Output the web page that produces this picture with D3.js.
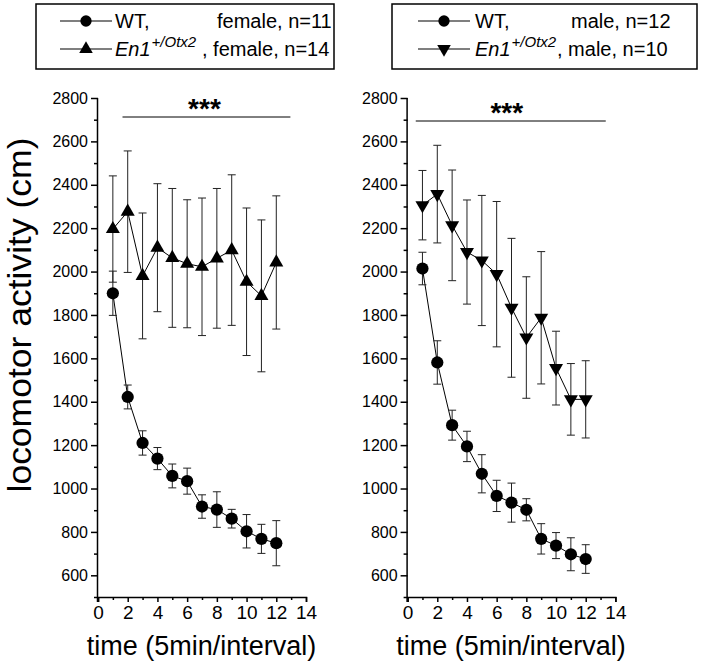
<!DOCTYPE html>
<html><head><meta charset="utf-8">
<script src="https://cdn.jsdelivr.net/npm/d3@7"></script>
<style>
html,body{margin:0;padding:0;background:#fff;}
svg{display:block;font-family:"Liberation Sans",Arial,sans-serif;}
</style></head>
<body>
<svg id="c" width="720" height="668"></svg>
<script>
const time = [1,2,3,4,5,6,7,8,9,10,11,12];
const femaleWT = [1900,1422,1210,1138,1058,1034,917,903,861,803,768,748];
const femaleWTerr = [102,55,56,51,55,60,54,82,43,77,67,104];
const femaleEn1 = [2196,2276,1980,2110,2063,2036,2022,2061,2099,1953,1888,2042];
const femaleEn1err = [245,280,290,295,320,295,317,322,347,340,350,307];
const maleWT = [2014,1581,1292,1194,1068,966,935,902,768,737,697,675];
const maleWTerr = [75,100,69,70,88,72,90,51,70,60,76,66];
const maleEn1 = [2306,2357,2213,2090,2051,1988,1833,1696,1787,1555,1411,1411];
const maleEn1err = [160,225,255,240,300,335,320,280,305,170,165,178];
const yTicks = [600,800,1000,1200,1400,1600,1800,2000,2200,2400,2600,2800];
const xTicks = [0,2,4,6,8,10,12,14];
const sigLeft = [1.65, 12.95];
const sigRight = [0.55, 13.35];

const svg = d3.select("#c");
const y = d3.scaleLinear().domain([500,2800]).range([597,98]);

function panel(x0, x1, wt, wtErr, ko, koErr, koSymbol, koRotate, sig, sigY, legend){
  const x = d3.scaleLinear().domain([0,14]).range([x0,x1]);
  const g = svg.append("g");
  const ya = g.append("g").attr("transform",`translate(${x0},0)`)
    .call(d3.axisLeft(y).tickValues(yTicks).tickSize(7).tickPadding(3).tickFormat(d3.format("d")));
  ya.call(s=>s.select(".domain").attr("d",`M-0.5,${y(2800)}V${y(500)+5}`));
  ya.selectAll("text").attr("font-size",16).attr("font-family","Liberation Sans, Arial, sans-serif");
  const ym = g.append("g").attr("transform",`translate(${x0},0)`)
    .call(d3.axisLeft(y).tickValues(d3.range(500,2800,100).filter(v=>v%200!==0)).tickSize(4).tickFormat(""));
  ym.select(".domain").remove();
  const xa = g.append("g").attr("transform",`translate(0,${y(500)})`)
    .call(d3.axisBottom(x).tickValues(xTicks).tickSize(5).tickPadding(4));
  xa.selectAll("text").attr("font-size",19).attr("font-family","Liberation Sans, Arial, sans-serif");
  const xm = g.append("g").attr("transform",`translate(0,${y(500)})`)
    .call(d3.axisBottom(x).tickValues(d3.range(1,14,2)).tickSize(3).tickFormat(""));
  xm.select(".domain").remove();
  g.selectAll(".domain,.tick line").attr("stroke","#000").attr("stroke-width",1.5);

  g.append("text").attr("x",(x0+x1)/2-0.5).attr("y",655).attr("text-anchor","middle")
    .attr("font-size",27).text("time (5min/interval)");

  const line = d3.line().x((d,i)=>x(time[i])).y(d=>y(d));
  function series(vals, errs, sym, rot){
    const s = g.append("g");
    s.append("path").attr("d",line(vals)).attr("fill","none").attr("stroke","#000").attr("stroke-width",1);
    vals.forEach((v,i)=>{
      const cx = x(time[i]);
      s.append("line").attr("x1",cx).attr("x2",cx).attr("y1",y(v-errs[i])).attr("y2",y(v+errs[i]))
        .attr("stroke","#222").attr("stroke-width",1);
      [v-errs[i], v+errs[i]].forEach(e=>{
        s.append("line").attr("x1",cx-4).attr("x2",cx+4).attr("y1",y(e)).attr("y2",y(e))
          .attr("stroke","#222").attr("stroke-width",1);
      });
    });
    vals.forEach((v,i)=>{
      s.append("path").attr("d",d3.symbol().type(sym).size(sym===d3.symbolCircle?118:85)())
        .attr("transform",`translate(${x(time[i])},${y(v)}) rotate(${rot})`).attr("fill","#000");
    });
  }
  series(wt, wtErr, d3.symbolCircle, 0);
  series(ko, koErr, koSymbol, koRotate);

  g.append("line").attr("x1",x(sig[0])).attr("x2",x(sig[1])).attr("y1",sigY).attr("y2",sigY)
    .attr("stroke","#000").attr("stroke-width",1);
  g.append("text").attr("x",(x(sig[0])+x(sig[1]))/2+ (legend.female?-2:-4)).attr("y",sigY+1)
    .attr("text-anchor","middle").attr("font-size",28).attr("font-weight","bold").text("***");

  const L = legend;
  g.append("rect").attr("x",L.bx).attr("y",4).attr("width",L.bw).attr("height",65)
    .attr("fill","none").attr("stroke","#000").attr("stroke-width",1.5);
  [[21,d3.symbolCircle,0],[49,koSymbol,koRotate]].forEach(([ly,sym,rot])=>{
    g.append("line").attr("x1",L.lx).attr("x2",L.lx+52).attr("y1",ly).attr("y2",ly).attr("stroke","#000").attr("stroke-width",1.2);
    g.append("path").attr("d",d3.symbol().type(sym).size(sym===d3.symbolCircle?100:80)())
      .attr("transform",`translate(${L.lx+26},${ly}) rotate(${rot})`).attr("fill","#000");
  });
  g.append("text").attr("x",L.tx).attr("y",28).attr("font-size",20).text("WT,");
  g.append("text").attr("x",L.t2x).attr("y",28).attr("font-size",20).text(L.line1);
  const t2 = g.append("text").attr("x",L.tx).attr("y",56).attr("font-size",20);
  t2.append("tspan").attr("font-style","italic").text("En1");
  t2.append("tspan").attr("font-style","italic").attr("font-size",15).attr("dy",-9).attr("dx",1).text("+/Otx2");
  g.append("text").attr("x",L.t3x).attr("y",56).attr("font-size",20).text(L.line2);
}

panel(98, 306, femaleWT, femaleWTerr, femaleEn1, femaleEn1err, d3.symbolTriangle, 0, sigLeft, 117,
  {female:true,bx:36,bw:298,lx:60,tx:115,t2x:217,t3x:202,line1:"female, n=11",line2:", female, n=14"});
panel(407.6, 615.4, maleWT, maleWTerr, maleEn1, maleEn1err, d3.symbolTriangle, 180, sigRight, 121,
  {female:false,bx:392,bw:305,lx:418,tx:475,t2x:571,t3x:557,line1:"male, n=12",line2:", male, n=10"});

svg.append("text").attr("transform","translate(31,315) rotate(-90)").attr("text-anchor","middle")
  .attr("font-size",33).attr("textLength",355).attr("lengthAdjust","spacingAndGlyphs")
  .text("locomotor activity (cm)");
</script>
</body></html>
